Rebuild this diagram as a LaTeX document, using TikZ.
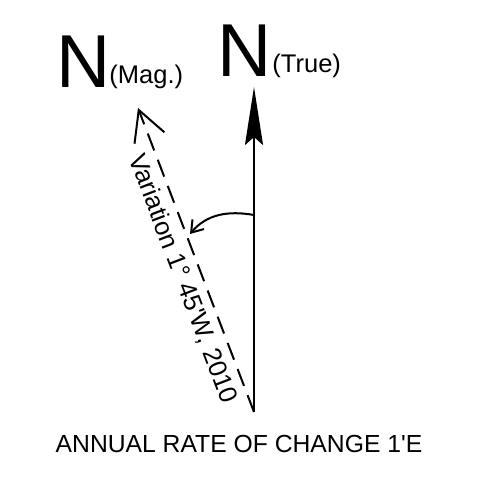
\documentclass[tikz,border=0pt]{standalone}
\usepackage{fontspec}
\setmainfont{Liberation Sans}
\usetikzlibrary{arrows.meta,positioning}
\tikzset{
  bigN/.style={font=\fontsize{75}{80}\selectfont, inner sep=0pt},
  northlbl/.style={font=\fontsize{25.5}{30}\selectfont, inner sep=0pt},
  varlbl/.style={font=\fontsize{25.5}{30}\selectfont, inner sep=0pt},
  ratelbl/.style={font=\fontsize{24.7}{28}\selectfont, inner sep=0pt},
  trueline/.style={line width=2.5pt, -{Stealth[length=58pt,width=18pt,inset=8pt]}},
  magline/.style={line width=2pt, dash pattern=on 18pt off 10pt, -{Straight Barb[length=30pt,width=32pt]}},
  turnarc/.style={line width=2pt, -{Straight Barb[length=11pt,width=15pt]}}
}
\begin{document}
\begin{tikzpicture}[x=1pt,y=1pt]
    \useasboundingbox (0,0) rectangle (477,-489);
    \coordinate (base) at (254,-412);
    \coordinate (truetip) at (254,-87);
    \coordinate (magtip) at (138,-108);
    \coordinate (arcstart) at (254,-215);
    \coordinate (arcend) at (190,-234);
    \draw[trueline] (base) -- (truetip);
    \draw[magline] (base) -- (magtip);
    \draw[turnarc] (arcstart) to[out=170,in=50] (arcend);
    \path (base) -- node[varlbl, sloped, below=8pt, pos=0.46] (varnote) {Variation 1° 45\textquotesingle W, 2010} (magtip);
    \node[bigN, anchor=base] (ntrue) at (245,-77) {N};
    \node[northlbl, anchor=base west] (truelbl) at ([yshift=4pt]ntrue.base east) {(True)};
    \node[bigN, anchor=base] (nmag) at (84,-88) {N};
    \node[northlbl, anchor=base west] (maglbl) at ([xshift=-2pt,yshift=4pt]nmag.base east) {(Mag.)};
    \node[ratelbl, anchor=base] (rate) at (239,-452) {ANNUAL RATE OF CHANGE 1\textquotesingle E};
\end{tikzpicture}
\end{document}
